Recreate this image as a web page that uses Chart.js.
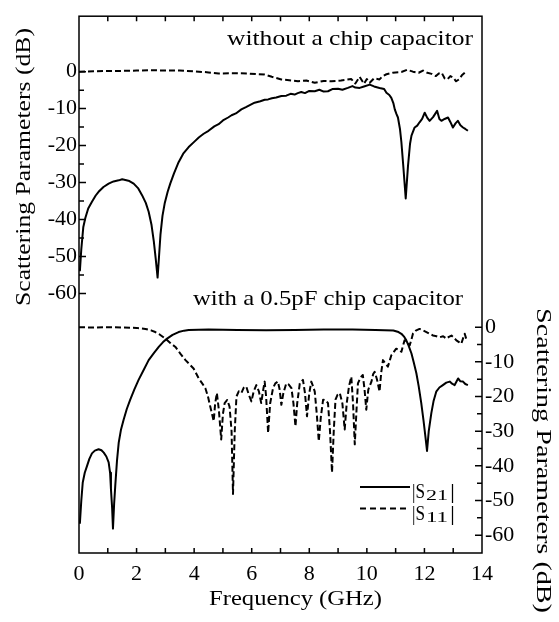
<!DOCTYPE html>
<html>
<head>
<meta charset="utf-8">
<script src="https://cdn.jsdelivr.net/npm/chart.js@4.4.1/dist/chart.umd.min.js"></script>
<style>
  html, body { margin: 0; padding: 0; background: #fff; }
  #wrap { width: 559px; height: 622px; }
</style>
</head>
<body>
<div id="wrap"><canvas id="chart" width="559" height="622"></canvas></div>
<script>
// [frequency GHz, dB]
const topS21 = [
  [0.03, -54], [0.08, -48], [0.15, -42], [0.22, -39.6], [0.32, -37], [0.45, -35.2], [0.58, -33.5],
  [0.68, -32.5], [0.85, -31.2], [1.03, -30.3], [1.2, -29.7], [1.38, -29.4], [1.5, -29.1], [1.61, -29.3],
  [1.75, -29.6], [1.9, -30.3], [2.05, -31.5], [2.19, -33.4], [2.32, -35.5], [2.42, -37.9], [2.52, -41.5],
  [2.6, -46], [2.67, -51], [2.73, -55.7], [2.78, -50], [2.83, -44.1], [2.9, -39], [2.98, -35.5],
  [3.08, -32.5], [3.17, -30.3], [3.3, -27.5], [3.46, -24.5], [3.62, -22.2], [3.81, -20.4], [4.0, -19.0],
  [4.16, -17.8], [4.33, -16.8], [4.5, -16.0], [4.7, -14.8], [4.85, -14.2], [5.0, -13.2], [5.18, -12.4],
  [5.3, -11.8], [5.45, -11.3], [5.64, -10.2], [5.8, -9.6], [5.95, -9.0], [6.1, -8.4], [6.3, -8.0],
  [6.45, -7.6], [6.57, -7.5], [6.7, -7.2], [6.85, -7.0], [7.03, -6.6], [7.2, -6.5], [7.35, -6.0],
  [7.49, -6.2], [7.6, -5.8], [7.72, -5.5], [7.85, -5.8], [8.0, -5.2], [8.19, -5.3], [8.35, -4.9],
  [8.5, -5.4], [8.65, -5.3], [8.8, -4.7], [9.0, -4.6], [9.15, -4.9], [9.34, -4.4], [9.5, -3.9],
  [9.6, -4.3], [9.75, -4.4], [9.9, -4.0], [10.1, -3.5], [10.25, -4.0], [10.44, -4.4], [10.6, -4.7],
  [10.68, -5.7], [10.78, -6.3], [10.85, -7.1], [10.92, -8.5], [10.97, -10.2], [11.03, -11.5],
  [11.08, -12.4], [11.15, -15.5], [11.2, -19.1], [11.27, -26], [11.35, -34.3], [11.43, -25.4],
  [11.5, -19.5], [11.55, -17.3], [11.66, -15.1], [11.75, -14.6], [11.83, -13.7], [11.92, -12.8],
  [12.01, -11.1], [12.1, -12.5], [12.18, -13.3], [12.3, -12.3], [12.44, -10.6], [12.52, -12.8],
  [12.59, -13.3], [12.7, -12.8], [12.82, -12.4], [12.9, -13.6], [12.99, -15.1], [13.08, -14.0],
  [13.16, -13.3], [13.25, -14.5], [13.34, -15.1], [13.42, -15.5], [13.51, -16.0]
];

const topS11 = [
  [0.0, 0], [0.5, 0.1], [1.0, 0.2], [1.5, 0.2], [2.0, 0.3], [2.5, 0.4], [3.0, 0.3], [3.5, 0.3],
  [4.0, 0.1], [4.5, -0.2], [4.85, -0.5], [5.3, -0.4], [5.88, -0.5], [6.2, -0.7], [6.45, -0.8],
  [6.7, -1.4], [7.03, -2.1], [7.3, -2.3], [7.61, -2.6], [7.9, -2.4], [8.19, -3.0], [8.5, -2.5],
  [8.77, -2.6], [9.1, -2.4], [9.46, -2.0], [9.6, -3.2], [9.75, -1.4], [9.9, -3.3], [10.0, -2.0],
  [10.1, -3.0], [10.25, -1.8], [10.44, -2.1], [10.55, -1.2], [10.68, -0.7], [10.9, -0.3], [11.2, -0.1],
  [11.4, 0.5], [11.6, 0.0], [11.8, -0.3], [11.95, 0.3], [12.1, -0.3], [12.25, -0.6], [12.4, -1.2],
  [12.5, -0.5], [12.6, -0.3], [12.7, -1.8], [12.8, -2.1], [12.9, -1.2], [13.0, -1.6], [13.1, -2.6],
  [13.2, -2.1], [13.3, -1.0], [13.4, -0.3]
];

const botS21 = [
  [0.03, -56.7], [0.08, -50], [0.13, -44.8], [0.2, -42], [0.28, -40], [0.36, -38], [0.45, -36.4],
  [0.55, -35.6], [0.68, -35.2], [0.78, -35.5], [0.86, -36.2], [0.95, -37.3], [1.03, -39], [1.08, -42],
  [1.11, -46.7], [1.15, -52], [1.18, -58.1], [1.22, -51], [1.26, -45.7], [1.32, -38.5], [1.38, -33.3],
  [1.46, -29.5], [1.55, -26.7], [1.66, -23.6], [1.78, -20.9], [1.92, -18], [2.07, -15.2], [2.25, -12.3],
  [2.42, -9.5], [2.6, -7.5], [2.77, -5.7], [2.92, -4.3], [3.06, -3.3], [3.25, -2.2], [3.46, -1.4],
  [3.65, -1.0], [3.81, -0.8], [4.5, -0.7], [5.5, -0.8], [6.5, -0.9], [7.5, -0.8], [8.5, -0.7],
  [9.5, -0.7], [10.3, -0.8], [10.92, -0.95], [11.1, -1.4], [11.2, -1.9], [11.3, -2.8], [11.37, -3.8],
  [11.45, -5.3], [11.55, -7.6], [11.63, -10.2], [11.72, -13.3], [11.8, -17], [11.89, -21.9],
  [11.97, -27], [12.04, -32], [12.09, -35.7], [12.15, -30], [12.24, -24.8], [12.32, -21.2],
  [12.41, -18.6], [12.52, -17.4], [12.64, -16.7], [12.76, -16.0], [12.88, -15.7], [12.96, -16.3],
  [13.05, -16.7], [13.17, -14.8], [13.25, -15.6], [13.34, -15.7], [13.42, -16.4], [13.51, -16.7]
];

const botS11 = [
  [0.0, 0], [0.5, -0.1], [1.0, 0.0], [1.5, -0.1], [2.0, -0.2], [2.31, -0.5], [2.5, -0.9], [2.65, -1.4],
  [2.8, -2.1], [3.0, -3.3], [3.18, -4.6], [3.35, -5.7], [3.52, -7.6], [3.7, -9.5], [3.85, -10.8],
  [3.98, -11.9], [4.08, -13.5], [4.16, -14.8], [4.28, -16.2], [4.39, -17.6], [4.48, -20], [4.56, -22.9],
  [4.62, -25], [4.68, -27.1], [4.73, -22], [4.79, -19.0], [4.86, -24], [4.94, -32.4], [5.0, -25],
  [5.06, -21.9], [5.15, -21], [5.23, -22.9], [5.3, -30], [5.35, -48.1], [5.41, -30], [5.47, -20],
  [5.55, -18.5], [5.64, -19], [5.72, -17.5], [5.81, -17.1], [5.9, -19.5], [5.99, -21.4], [6.07, -18.5],
  [6.16, -16.7], [6.25, -18.5], [6.33, -21.9], [6.4, -18], [6.45, -15.7], [6.5, -20], [6.57, -30.5],
  [6.64, -22], [6.74, -17.6], [6.82, -16.2], [6.91, -15.7], [6.97, -18], [7.03, -22.4], [7.1, -19],
  [7.2, -16.2], [7.28, -16.5], [7.38, -17.6], [7.45, -22], [7.52, -28.6], [7.58, -22], [7.67, -16.2],
  [7.78, -15.2], [7.85, -19], [7.92, -25.7], [8.0, -19], [8.07, -15.7], [8.13, -17], [8.19, -18.6],
  [8.26, -25], [8.33, -32.9], [8.4, -26], [8.48, -20.9], [8.56, -21], [8.65, -21.9], [8.72, -30],
  [8.79, -41.9], [8.85, -30], [8.91, -20.9], [8.98, -19.5], [9.06, -19], [9.15, -22], [9.23, -29.5],
  [9.3, -22], [9.38, -17], [9.46, -14.3], [9.52, -22], [9.58, -33.8], [9.64, -24], [9.69, -16.2],
  [9.78, -14.5], [9.86, -13.8], [9.92, -18], [9.98, -23.8], [10.05, -18], [10.16, -15.7], [10.22, -13.5],
  [10.27, -12.9], [10.35, -15], [10.44, -18.6], [10.5, -13], [10.56, -9.5], [10.65, -10.5], [10.73, -11.4],
  [10.8, -9.5], [10.85, -8.1], [10.95, -7], [11.02, -6.2], [11.1, -6.5], [11.2, -7.1], [11.25, -5.5],
  [11.31, -3.8], [11.4, -4.5], [11.49, -5.2], [11.55, -3.5], [11.6, -1.9], [11.7, -1.0], [11.83, -0.5],
  [11.95, -0.9], [12.07, -1.4], [12.18, -1.9], [12.3, -2.4], [12.42, -2.6], [12.53, -2.9], [12.65, -2.6],
  [12.76, -3.3], [12.85, -2.8], [12.94, -2.4], [13.02, -3.0], [13.11, -3.8], [13.2, -4.3], [13.28, -4.8],
  [13.35, -3.0], [13.4, -1.9], [13.45, -3.3]
];

const freqTicks = [0, 2, 4, 6, 8, 10, 12, 14];
const freqMinorTicks = [1, 2, 3, 4, 5, 6, 7, 8, 9, 10, 11, 12, 13];
const dbTicks = [0, -10, -20, -30, -40, -50, -60];
const dbMinorTicks = [0, -5, -10, -15, -20, -25, -30, -35, -40, -45, -50, -55, -60];

const panelTop = 'without a chip capacitor';
const panelBottom = 'with a 0.5pF chip capacitor';
const yTitle = 'Scattering Parameters (dB)';
const xTitle = 'Frequency (GHz)';

const SERIF = '"Liberation Serif", "Times New Roman", serif';
const tickFont = { family: SERIF, size: 22 };

function toPoints(pairs) {
    return pairs.map(p => ({ x: p[0], y: p[1] }));
}

// text in the figure is horizontally stretched, so fit it to a given length
function fitText(ctx, text, size, from, to, base, rot) {
    ctx.save();
    ctx.font = size + 'px ' + SERIF;
    ctx.textAlign = 'left';
    ctx.textBaseline = 'alphabetic';
    const w = ctx.measureText(text).width;
    if (rot === 0) {
        ctx.translate(from, base);
    } else {
        ctx.translate(base, from);
        ctx.rotate(rot * Math.PI / 180);
    }
    ctx.scale(Math.abs(to - from) / w, 1);
    ctx.fillText(text, 0, 0);
    ctx.restore();
}

const frameAndText = {
    id: 'frameAndText',
    afterDraw(chart) {
        const { ctx, chartArea: a, scales } = chart;
        ctx.save();
        ctx.strokeStyle = '#000';
        ctx.fillStyle = '#000';
        ctx.lineWidth = 1.5;
        ctx.strokeRect(a.left, a.top, a.right - a.left, a.bottom - a.top);

        // inward tick marks
        ctx.beginPath();
        freqMinorTicks.forEach(v => {
            const x = scales.x.getPixelForValue(v);
            ctx.moveTo(x, a.bottom); ctx.lineTo(x, a.bottom - 5);
            ctx.moveTo(x, a.top); ctx.lineTo(x, a.top + 5);
        });
        dbMinorTicks.forEach(v => {
            const len = v % 10 === 0 ? 7 : 5;
            const yl = scales.yTop.getPixelForValue(v);
            ctx.moveTo(a.left, yl); ctx.lineTo(a.left + len, yl);
            const yr = scales.yBot.getPixelForValue(v);
            ctx.moveTo(a.right, yr); ctx.lineTo(a.right - len, yr);
        });
        ctx.stroke();

        // panel captions and axis titles
        fitText(ctx, panelTop, 22, 227, 473, 45, 0);
        fitText(ctx, panelBottom, 22, 193, 463, 305, 0);
        fitText(ctx, xTitle, 22, 209, 382, 605, 0);
        fitText(ctx, yTitle, 22, 306, 28, 30, -90);
        fitText(ctx, yTitle, 22, 308, 613, 537, 90);

        // legend
        ctx.lineWidth = 2;
        ctx.beginPath();
        ctx.moveTo(360, 487); ctx.lineTo(410, 487);
        ctx.stroke();
        ctx.setLineDash([6, 4]);
        ctx.beginPath();
        ctx.moveTo(360, 508.5); ctx.lineTo(410, 508.5);
        ctx.stroke();
        ctx.setLineDash([]);
        [['21', 498], ['11', 520]].forEach(([sub, base]) => {
            fitText(ctx, '|S', 20, 412, 425, base, 0);
            fitText(ctx, sub, 15, 426, 448, base + 2, 0);
            fitText(ctx, '|', 20, 450, 455, base, 0);
        });
        ctx.restore();
    }
};

const lineStyle = {
    borderColor: '#000',
    borderWidth: 2,
    pointRadius: 0,
    tension: 0,
    borderJoinStyle: 'round'
};

new Chart(document.getElementById('chart'), {
    type: 'line',
    data: {
        datasets: [
            { label: '|S21| without', data: toPoints(topS21), yAxisID: 'yTop', ...lineStyle },
            { label: '|S11| without', data: toPoints(topS11), yAxisID: 'yTop', ...lineStyle, borderDash: [6, 3] },
            { label: '|S21| with 0.5pF', data: toPoints(botS21), yAxisID: 'yBot', ...lineStyle },
            { label: '|S11| with 0.5pF', data: toPoints(botS11), yAxisID: 'yBot', ...lineStyle, borderDash: [6, 3] }
        ]
    },
    options: {
        responsive: false,
        animation: false,
        layout: { padding: { top: 11, left: 0, right: 0, bottom: 0 } },
        plugins: { legend: { display: false }, tooltip: { enabled: false } },
        scales: {
            x: {
                type: 'linear', position: 'bottom', min: 0, max: 14,
                grid: { display: false, drawTicks: false },
                border: { display: false },
                ticks: { font: tickFont, color: '#000', padding: 8, maxRotation: 0, autoSkip: false, callback: v => String(v) },
                afterBuildTicks: s => { s.ticks = freqTicks.map(v => ({ value: v })); },
                afterFit: s => { s.height = 69; }
            },
            yTop: {
                type: 'linear', position: 'left', min: -130.2, max: 15,
                grid: { display: false, drawTicks: false },
                border: { display: false },
                ticks: { font: tickFont, color: '#000', padding: 2, callback: v => String(v) },
                afterBuildTicks: s => { s.ticks = dbTicks.map(v => ({ value: v })); },
                afterFit: s => { s.width = 79; }
            },
            yBot: {
                type: 'linear', position: 'right', min: -65.14, max: 89.71,
                grid: { display: false, drawTicks: false },
                border: { display: false },
                ticks: { font: tickFont, color: '#000', padding: 3, callback: v => String(v) },
                afterBuildTicks: s => { s.ticks = dbTicks.map(v => ({ value: v })); },
                afterFit: s => { s.width = 77; }
            }
        }
    },
    plugins: [frameAndText]
});
</script>
</body>
</html>
